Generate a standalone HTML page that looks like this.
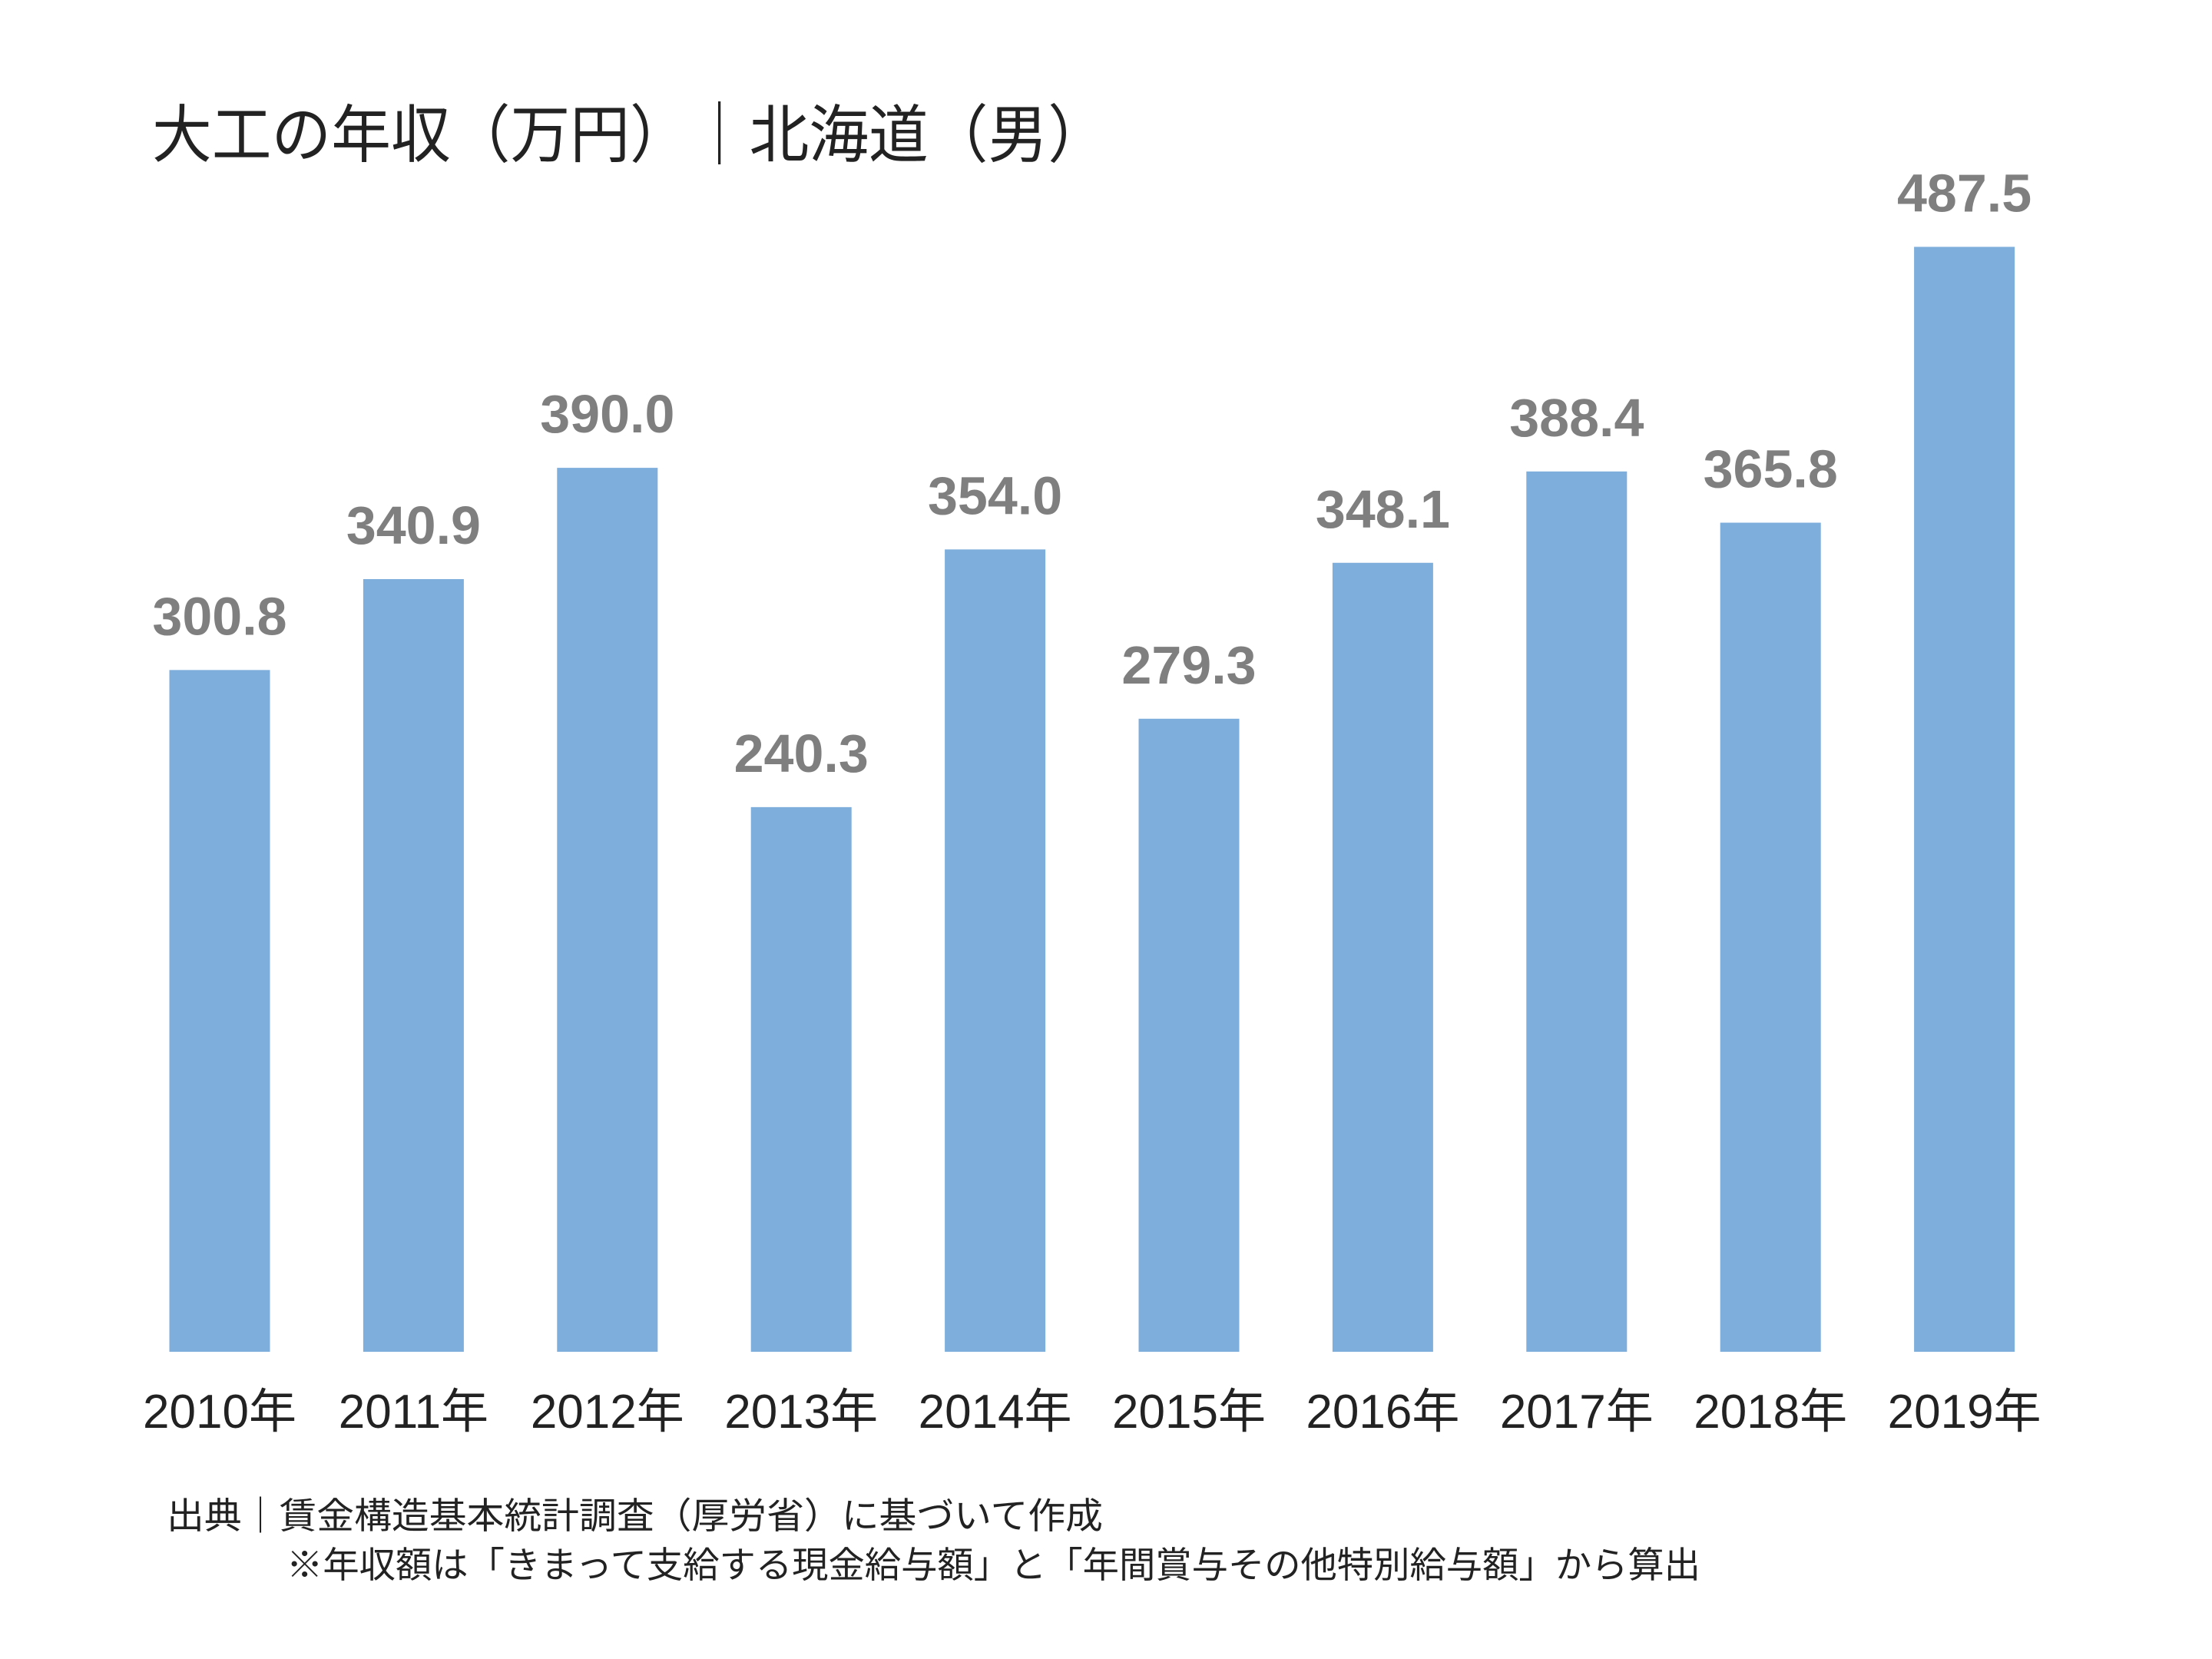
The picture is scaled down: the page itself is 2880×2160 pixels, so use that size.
<!DOCTYPE html>
<html><head><meta charset="utf-8">
<style>
html,body{margin:0;padding:0;background:#fff;}
svg{display:block;}
</style></head>
<body>
<svg id="chart" width="2880" height="2160" viewBox="0 0 2880 2160" xmlns="http://www.w3.org/2000/svg">
<rect width="2880" height="2160" fill="#fff"/>
<text x="198" y="204" font-size="82" fill="#222" textLength="1244" lengthAdjust="spacingAndGlyphs" font-family="'Liberation Sans','Noto Sans CJK JP',sans-serif">大工の年収（万円）｜北海道（男）</text>
<g id="bars"></g>
<text x="217" y="1990" font-size="47" fill="#222" textLength="1219" lengthAdjust="spacingAndGlyphs" font-family="'Liberation Sans','Noto Sans CJK JP',sans-serif">出典｜賃金構造基本統計調査（厚労省）に基づいて作成</text>
<text x="373" y="2054" font-size="47" fill="#222" textLength="1841" lengthAdjust="spacingAndGlyphs" font-family="'Liberation Sans','Noto Sans CJK JP',sans-serif">※年収額は「きまって支給する現金給与額」と「年間賞与その他特別給与額」から算出</text>
</svg>
<script>
const categories = ["2010年","2011年","2012年","2013年","2014年","2015年","2016年","2017年","2018年","2019年"];
const values = [300.8,340.9,390.0,240.3,354.0,279.3,348.1,388.4,365.8,487.5];
const valueLabels = ["300.8","340.9","390.0","240.3","354.0","279.3","348.1","388.4","365.8","487.5"];

const NS="http://www.w3.org/2000/svg";
const g=document.getElementById('bars');
const baseY=1760, pxPerUnit=2.951, firstX=286, step=252.4, barW=131;
function xPos(i){return firstX+i*step;}
function yPos(v){return baseY-v*pxPerUnit;}
categories.forEach((c,i)=>{
  const cx=xPos(i), top=yPos(values[i]);
  const r=document.createElementNS(NS,'rect');
  r.setAttribute('x',cx-barW/2);r.setAttribute('y',top);
  r.setAttribute('width',barW);r.setAttribute('height',baseY-top);
  r.setAttribute('fill','#7eaedc');
  
  
  g.appendChild(r);
  const t=document.createElementNS(NS,'text');
  t.setAttribute('x',cx);t.setAttribute('y',top-46);
  t.setAttribute('text-anchor','middle');t.setAttribute('font-size','70');
  t.setAttribute('font-weight','bold');t.setAttribute('fill','#7f7f7f');
  t.setAttribute('font-family',"'Liberation Sans',sans-serif");
  t.textContent=valueLabels[i];
  
  
  g.appendChild(t);
  const l=document.createElementNS(NS,'text');
  l.setAttribute('x',cx);l.setAttribute('y',1859);
  l.setAttribute('text-anchor','middle');l.setAttribute('font-size','62');
  l.setAttribute('fill','#222');
  l.setAttribute('font-family',"'Liberation Sans','Noto Sans CJK JP',sans-serif");
  l.textContent=c;
  
  
  g.appendChild(l);
});
</script>
</body></html>
